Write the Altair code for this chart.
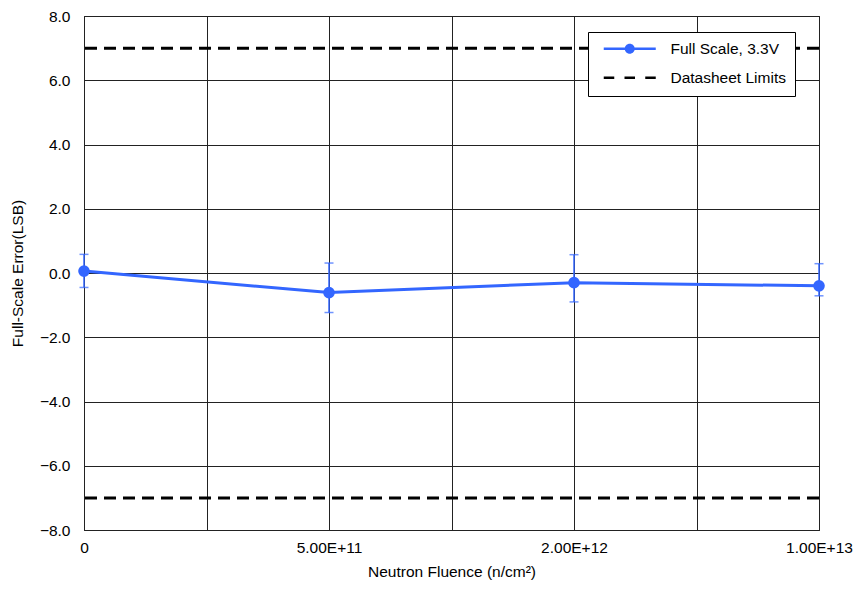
import altair as alt
import pandas as pd

# ---- data ----
fluence_labels = ["0", "5.00E+11", "2.00E+12", "1.00E+13"]
fluence_pos = [0, 2, 4, 6]          # categorical positions on the x axis
fs_error = [0.06, -0.61, -0.30, -0.40]
err_high = [0.58, 0.31, 0.57, 0.29]
err_low = [-0.45, -1.23, -0.90, -0.71]
limit_values = [7.0, -7.0]
series_names = ["Full Scale, 3.3V", "Datasheet Limits"]
series_colors = ["#3366FF", "#000000"]

BLUE = series_colors[0]
FONT = "Liberation Sans"
FS = 15.5

df = pd.DataFrame({
    "pos": fluence_pos,
    "label": fluence_labels,
    "err": fs_error,
    "high": err_high,
    "low": err_low,
})
lim_df = pd.DataFrame({"lim": limit_values})
leg_df = pd.DataFrame({"series": series_names, "pos": [-10, -10], "err": [0, 0]})

label_expr = " : ".join(
    f"datum.value == {p} ? '{l}'" for p, l in zip(fluence_pos, fluence_labels)
) + " : ''"

x_scale = alt.Scale(domain=[0, 6], nice=False, zero=False)
y_scale = alt.Scale(domain=[-8, 8], nice=False)

x_enc = alt.X(
    "pos:Q", scale=x_scale,
    axis=alt.Axis(values=[0, 1, 2, 3, 4, 5, 6], labelExpr=label_expr,
                  title="Neutron Fluence (n/cm²)", grid=True, ticks=False,
                  domain=False, labelPadding=10, titlePadding=9,
                  labelFlush=False),
)
y_axis = alt.Axis(values=[-8, -6, -4, -2, 0, 2, 4, 6, 8], format=".1f",
                  title="Full-Scale Error(LSB)", grid=True, ticks=False,
                  domain=False, labelPadding=14, titlePadding=14)

limits = alt.Chart(lim_df).mark_rule(
    color="black", strokeWidth=3, strokeDash=[12, 7]
).encode(y=alt.Y("lim:Q", scale=y_scale, axis=y_axis))

errbars = alt.Chart(df).mark_errorbar(
    color=BLUE, thickness=1.5, ticks={"size": 9, "thickness": 1.5, "color": BLUE}
).encode(
    x=x_enc,
    y=alt.Y("low:Q", scale=y_scale, title="Full-Scale Error(LSB)"),
    y2="high:Q",
)

line = alt.Chart(df).mark_line(color=BLUE, strokeWidth=3).encode(
    x=x_enc, y=alt.Y("err:Q", scale=y_scale, axis=y_axis)
)
points = alt.Chart(df).mark_point(
    color=BLUE, filled=True, size=135, opacity=1
).encode(x=x_enc, y=alt.Y("err:Q", scale=y_scale, axis=y_axis))

# legend symbols (custom paths: line with dot, and dashed line)
line_dot = ("M-5.2,-0.25 L5.2,-0.25 L5.2,0.25 L-5.2,0.25 Z "
            "M-1,0 A1,1 0 1,1 1,0 A1,1 0 1,1 -1,0 Z")
dashes = ("M-5.2,-0.25 L-3.1,-0.25 L-3.1,0.25 L-5.2,0.25 Z "
          "M-1.05,-0.25 L1.05,-0.25 L1.05,0.25 L-1.05,0.25 Z "
          "M3.1,-0.25 L5.2,-0.25 L5.2,0.25 L3.1,0.25 Z")

legend_layer = alt.Chart(leg_df).mark_point(
    filled=True, clip=True, size=144, opacity=1
).encode(
    x=alt.X("pos:Q", scale=x_scale),
    y=alt.Y("err:Q", scale=y_scale),
    color=alt.Color("series:N", scale=alt.Scale(domain=series_names, range=series_colors),
                    legend=alt.Legend(title=None, orient="none", legendX=504, legendY=16,
                                      strokeColor="black", fillColor="white", padding=9,
                                      labelFontSize=FS, labelFont=FONT, labelColor="black",
                                      symbolOffset=25, labelOffset=33, rowPadding=12,
                                      symbolStrokeWidth=0, symbolOpacity=1, cornerRadius=0)),
    shape=alt.Shape("series:N", scale=alt.Scale(domain=series_names, range=[line_dot, dashes]),
                    legend=None),
)

chart = alt.layer(limits, errbars, line, points, legend_layer).properties(
    width=735, height=514,
    autosize=alt.AutoSizeParams(type="none"),
    padding={"left": 76, "top": 8, "right": 34, "bottom": 60},
).configure_view(
    stroke="black", strokeWidth=1
).configure_axis(
    gridColor="#222222", gridWidth=1, gridOpacity=1,
    labelFont=FONT, titleFont=FONT, labelFontSize=FS, titleFontSize=FS,
    labelColor="black", titleColor="black", titleFontWeight="normal",
)

chart.save("out.html", embed_options={"renderer": "svg", "actions": False})
